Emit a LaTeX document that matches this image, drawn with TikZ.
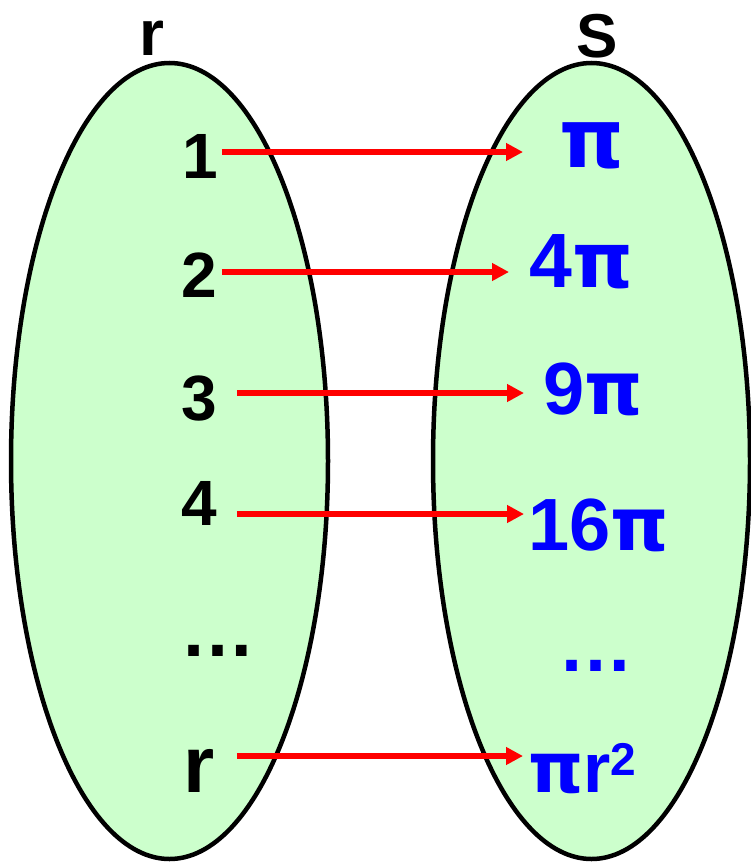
\documentclass[tikz,border=0pt]{standalone}
\usepackage{fontspec}
\setmainfont{Liberation Sans}
\newfontfamily\pifont{DejaVu Sans}
\usetikzlibrary{arrows.meta,calc,shapes.geometric}
\definecolor{setgreen}{HTML}{CCFFCC}
\definecolor{valblue}{HTML}{0000FF}
\definecolor{maparrow}{HTML}{FF0000}
\newcommand{\fs}[1]{\fontsize{#1}{#1}\selectfont\bfseries}
\newcommand{\pisym}{{\pifont\bfseries π}}
\begin{document}
\begin{tikzpicture}[x=1pt,y=-1pt,
  setbox/.style={ellipse,draw=black,fill=setgreen,line width=4.5pt,inner sep=0pt,
    minimum width=317pt,minimum height=796pt},
  elem/.style={inner sep=0pt,anchor=base,text=black},
  val/.style={inner sep=0pt,anchor=base west,text=valblue},
  arr/.style={draw=maparrow,line width=5.5pt,-{Triangle[length=17pt,width=17pt]}}]
\useasboundingbox (0,0) rectangle (751,862);

% the two sets
\node[setbox] (dom) at (169.5,461) {};
\node[setbox] (cod) at (591.5,461) {};

% set names
\node[elem] (rname) at (152,55) {\fs{64}r};
\node[elem] (sname) at (597,57) {\fs{62}S};

% radii
\node[elem] (l1) at (200,178) {\fs{64}1};
\node[elem] (l2) at (199,297) {\fs{64}2};
\node[elem] (l3) at (199,420) {\fs{64}3};
\node[elem] (l4) at (199,525) {\fs{64}4};
\node[elem] (ldots) at (218,656) {\fs{75}…};
\node[elem] (lr) at (199,792) {\fs{80}r};

% areas
\node[val] (r1) at (559,167) {\fs{82}\pisym};
\node[val] (r2) at (529,287) {\fs{77}4\pisym};
\node[val] (r3) at (543,414) {\fs{74}9\pisym};
\node[val] (r4) at (528,550) {\fs{74}16\pisym};
\node[elem,text=valblue] (rdots) at (596,671) {\fs{75}…};
\node[val] (rr) at (528,792) {\fs{70}\pisym r\raisebox{17pt}{\fs{46}2}};

% mapping arrows
\draw[arr] ($(l1.base east)+(4,-26)$) -- ($(l1.base east -| r1.base west)+(-36,-26)$);
\draw[arr] ($(l2.base east)+(5,-25)$) -- ($(l2.base east -| r2.base west)+(-20,-25)$);
\draw[arr] ($(l3.base east)+(20,-27)$) -- ($(l3.base east -| r3.base west)+(-19,-27)$);
\draw[arr] ($(l4.base east)+(20,-11)$) -- ($(l4.base east -| r4.base west)+(-4,-11)$);
\draw[arr] ($(lr.base east)+(22,-36)$) -- ($(lr.base east -| rr.base west)+(-5,-36)$);
\end{tikzpicture}
\end{document}
